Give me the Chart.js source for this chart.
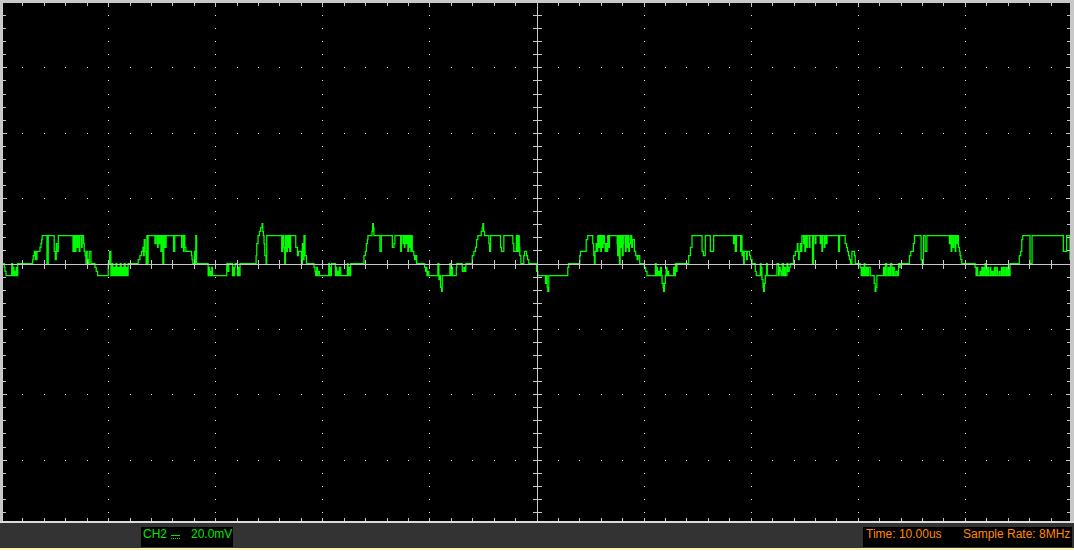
<!DOCTYPE html>
<html>
<head>
<meta charset="utf-8">
<script src="https://cdn.jsdelivr.net/npm/chart.js@4.4.0/dist/chart.umd.min.js"></script>
<style>
  html, body { margin: 0; padding: 0; background: #fff; }
  #wrap { position: relative; width: 1074px; height: 551px; overflow: hidden; background: #000; }
  #scope { position: absolute; left: 0; top: 0; }
  .bar { position: absolute; left: 0; width: 1074px; }
  .box { position: absolute; top: 527px; height: 20px; background: #000; }
  .txt { position: absolute; top: 0; line-height: 20px; font: 12px "Liberation Sans", Arial, sans-serif; white-space: nowrap; }
  .ch { color: #00e800; }
  .info { color: #ff8a00; }
  .dc { position: absolute; left: 30px; width: 9px; height: 1px; }
</style>
</head>
<body>
<div id="wrap">
  <canvas id="scope" width="1074" height="551"></canvas>
  <div class="bar" style="top:521px;height:2px;background:#dcdcdc"></div>
  <div class="bar" style="top:523px;height:25px;background:#333"></div>
  <div class="bar" style="top:548px;height:2px;background:#fff2bd"></div>
  <div class="bar" style="top:550px;height:1px;background:#fff"></div>
  <div class="box" style="left:141px;width:92px">
    <span class="txt ch" style="left:2px">CH2</span>
    <span class="dc" style="top:8px;background:#00e800"></span>
    <span class="dc" style="top:11px;background:repeating-linear-gradient(90deg,#00e800 0 1px,transparent 1px 2px)"></span>
    <span class="txt ch" style="left:50px">20.0mV</span>
  </div>
  <div class="box" style="left:863px;width:209px">
    <span class="txt info" style="left:3px">Time: 10.00us</span>
    <span class="txt info" style="left:100px">Sample Rate: 8MHz</span>
  </div>
</div>
<script>
// CH2 capture, 10 us/div, 20 mV/div
const timeUs = [
  0.00, 0.31, 0.37, 0.47, 1.00, 1.09, 1.15, 1.21, 1.31, 1.37, 1.43, 1.49, 1.56,
  2.96, 3.01, 3.11, 3.20, 3.24, 3.29, 3.36, 3.64, 3.73, 3.80, 3.85, 4.29, 4.41, 4.97, 5.07, 5.16, 5.22, 5.35,
  6.72, 6.84, 6.93, 7.00, 7.12, 7.18, 7.30, 7.37, 7.53, 7.58, 7.71, 7.77, 7.86, 7.93, 7.99, 8.05, 8.14, 8.24, 8.40,
  8.77, 8.89, 9.02, 10.01, 10.14, 10.26, 10.38, 10.45, 10.57, 10.63, 10.73, 10.82, 10.94, 11.04, 11.13, 11.22,
  11.32, 11.41, 11.50, 11.59, 11.69, 11.78, 11.87,
  12.81, 12.97, 13.12, 13.25, 13.31, 13.37, 13.46, 13.55, 13.62, 13.68, 13.74, 14.37, 14.49, 14.62, 14.67, 14.77,
  14.83, 14.93, 14.99, 15.11, 15.20, 15.30, 15.42, 16.11, 16.23, 16.86, 16.91, 17.04, 17.10, 17.16, 17.26, 17.79,
  17.84, 17.91, 18.07, 18.12, 18.19, 18.26,
  19.34, 19.40, 19.47, 19.56, 19.62, 19.68, 19.75, 21.08, 21.20, 21.27, 21.61, 21.67, 21.74, 21.80, 21.86, 22.08,
  22.14, 22.20, 22.32,
  23.82, 23.88, 24.00, 24.13, 24.25, 24.38, 24.44, 24.50, 24.56, 24.63, 24.75, 24.81, 26.21, 26.31, 26.40, 26.49,
  26.56, 26.68, 26.74, 26.80, 26.87, 26.96, 27.05, 27.52, 27.68, 27.77, 28.05, 28.14, 28.20, 28.29, 28.39, 28.52,
  29.23, 29.32, 29.38, 29.48, 29.54, 29.60, 29.73, 30.60, 30.66, 30.72, 30.78, 30.85, 31.22, 31.28, 31.34, 31.44,
  31.53, 31.59, 31.72, 32.34, 32.40, 32.46, 32.58, 32.65,
  33.89, 34.02, 34.11, 34.21, 34.26, 34.64, 34.70, 34.77, 34.82, 35.38, 35.51, 36.54, 36.69, 36.78, 37.31, 37.38,
  37.53, 37.59, 37.66, 37.71, 37.81, 37.87, 37.99, 38.06, 38.15, 38.22, 38.27, 38.34, 38.40, 38.55, 38.62, 38.71, 38.81,
  39.55, 39.64, 39.71, 39.77, 39.83, 39.95, 40.79, 40.89, 40.95, 41.04, 41.14, 41.20, 41.91, 42.00, 42.10, 42.16,
  42.51, 42.56, 43.07, 43.22, 43.31, 43.40,
  44.00, 44.15, 44.31, 44.40, 44.52, 44.84, 44.93, 44.99, 45.06, 45.15, 45.55, 45.62, 45.71, 46.64, 46.73, 46.95,
  47.79, 47.88, 48.13, 48.20, 48.32, 48.39, 48.44, 48.54, 48.81, 48.88, 49.07, 49.16, 49.28,
  50.00, 50.12, 50.84, 50.93, 51.00, 51.05, 51.15, 52.92, 53.01,
  54.04, 54.10, 54.64, 54.78, 55.25, 55.34, 55.41, 55.47, 55.57, 55.62, 55.72, 55.81, 55.88, 56.00, 56.06, 56.13,
  56.22, 56.34, 56.41, 56.50, 56.59, 56.65, 56.74, 56.81, 57.53, 57.58, 57.65, 57.74, 57.81, 57.86, 57.93, 58.02,
  58.09, 58.14, 58.30, 58.37, 58.49, 58.55, 58.61, 58.68, 58.77, 58.89, 58.96, 59.14, 59.26, 59.39, 59.49, 59.64,
  60.07, 60.20, 60.32, 61.10, 61.17, 61.22, 61.29, 61.41, 61.47, 61.57, 61.66, 61.73, 61.82, 61.87, 61.94, 62.03,
  62.10, 62.19, 62.29, 62.34, 62.81, 62.87, 62.97, 63.03, 63.12,
  64.21, 64.37, 64.52, 65.46, 65.58, 65.76, 66.23, 66.54, 68.40, 68.50, 68.56, 68.66, 69.06, 69.12, 69.19, 69.24,
  69.34, 69.40, 69.62, 69.68, 69.90, 69.99, 70.12,
  70.43, 70.52, 70.90, 70.96, 71.02, 71.05, 71.15, 71.20, 71.27, 71.36, 71.48, 71.55, 72.45, 72.60, 72.67, 72.76,
  72.85, 72.95, 73.07, 73.16, 73.25, 73.38, 73.48, 73.60, 73.69,
  74.00, 74.16, 74.35, 74.41, 74.47, 74.53, 74.63, 74.69, 74.78, 74.93, 75.00, 75.06, 75.12, 75.21, 75.28, 75.47,
  75.53, 75.77, 75.87, 76.03, 76.09, 76.49, 76.56, 76.65, 76.71, 76.87, 76.93, 77.02, 77.12, 78.20, 78.29, 78.82,
  78.95, 79.04, 79.13, 79.22, 79.32, 79.45, 79.69, 79.76,
  80.22, 80.32, 80.41, 80.50, 80.60, 80.66, 80.78, 80.88, 81.00, 81.16, 81.53, 81.62, 81.69, 81.78, 82.40, 82.49,
  82.58, 82.71, 82.84, 82.93, 83.05, 83.18, 83.30, 83.40, 83.55, 83.68, 83.80, 83.89, 83.96,
  84.82, 84.95, 85.19, 85.29, 85.91, 86.01, 86.13, 86.29, 86.45, 88.55, 88.62, 88.71, 88.78, 88.90, 88.96, 89.09,
  89.15, 89.27, 89.34, 89.39, 89.49, 89.55, 89.62, 89.71,
  90.95, 91.04, 91.14, 91.20, 91.42, 91.48, 91.58, 91.63, 91.73, 91.79, 91.88, 91.98, 92.10, 92.19, 92.35, 92.42,
  92.54, 92.63, 92.75, 92.85, 92.98, 93.03, 93.19, 93.28, 93.41, 93.47, 93.59, 93.68, 93.81, 93.91, 94.03, 94.12, 94.22,
  95.08, 95.21, 95.31, 95.40, 96.08, 96.27, 99.19, 99.50, 99.81, 99.91, 100.00
];
const ch2mV = [
  0, -1.2, -2.4, -3.7, 0, -3.7, -1.2, -3.7, -2.4, -3.7, -1.2, -3.7, 0,
  1.2, 2.4, 3.7, 1.2, 3.7, 1.2, 3.7, 4.9, 6.1, 7.3, 8.5, 0, 8.5, 3.7, 1.2, 6.1, 3.7, 8.5,
  3.7, 8.5, 3.7, 8.5, 4.9, 8.5, 3.7, 8.5, 4.9, 8.5, 6.1, 3.7, 2.4, 0, 3.7, 1.2, 0, 3.7, 0,
  -1.2, -2.4, -3.7, 0, 3.7, -3.7, 0, -3.7, -1.2, -3.7, 0, -3.7, -1.2, -3.7, 0, -3.7,
  -1.2, -3.7, 0, -3.7, -1.2, -3.7, 0,
  1.2, 2.4, 3.7, 4.9, 2.4, 7.3, 3.7, 0, 8.5, 0, 8.5, 6.1, 8.5, 4.9, 8.5, 6.1,
  8.5, 3.7, 8.5, 0, 8.5, 4.9, 8.5, 3.7, 8.5, 4.9, 8.5, 3.7, 8.5, 4.9, 3.7, 2.4,
  1.2, 0, 3.7, 0, 8.5, 0,
  -3.7, -1.2, -3.7, -2.4, -3.7, -1.2, -3.7, 0, -2.4, 0, -3.7, -1.2, -3.7, -1.2, 0, -3.7,
  -1.2, -3.7, 0,
  2.4, 6.1, 8.5, 9.8, 11.0, 12.2, 9.8, 8.5, 6.1, 2.4, 0, 8.5, 3.7, 8.5, 4.9, 0,
  8.5, 3.7, 8.5, 4.9, 8.5, 3.7, 8.5, 4.9, 2.4, 3.7, 0, 6.1, 1.2, 8.5, 2.4, 0,
  -1.2, -2.4, -3.7, -1.2, -3.7, -2.4, -3.7, 0, -3.7, -1.2, -3.7, 0, -3.7, -1.2, -3.7, -2.4,
  -3.7, -1.2, -3.7, 0, -3.7, -1.2, -3.7, 0,
  2.4, 3.7, 6.1, 7.3, 8.5, 9.8, 12.2, 11.0, 8.5, 3.7, 8.5, 4.9, 6.1, 8.5, 3.7, 8.5,
  6.1, 8.5, 4.9, 8.5, 6.1, 8.5, 3.7, 8.5, 4.9, 8.5, 3.7, 8.5, 3.7, 2.4, 1.2, 2.4, 0,
  -1.2, -2.4, -1.2, -3.7, -2.4, -3.7, 0, -4.9, -3.7, -7.3, -8.5, -3.7, 0, -3.7, -1.2, -3.7,
  -1.2, 0, -2.4, -1.2, -2.4, 0,
  2.4, 3.7, 4.9, 7.3, 8.5, 9.8, 11.0, 12.2, 9.8, 8.5, 6.1, 3.7, 8.5, 4.9, 3.7, 8.5,
  6.1, 3.7, 8.5, 3.7, 8.5, 4.9, 2.4, 0, 2.4, 3.7, 2.4, 1.2, 0,
  -2.4, -3.7, -6.1, -3.7, -7.3, -8.5, -3.7, -1.2, 0,
  2.4, 3.7, 7.3, 8.5, 6.1, 2.4, 0, 3.7, 6.1, 3.7, 8.5, 4.9, 8.5, 3.7, 8.5, 4.9,
  8.5, 6.1, 3.7, 6.1, 3.7, 8.5, 4.9, 8.5, 6.1, 2.4, 8.5, 0, 8.5, 4.9, 8.5, 2.4,
  6.1, 8.5, 3.7, 8.5, 4.9, 8.5, 3.7, 6.1, 8.5, 4.9, 7.3, 3.7, 2.4, 1.2, 2.4, 0,
  -1.2, -2.4, -3.7, 0, -3.7, -1.2, -3.7, -2.4, -3.7, -1.2, -3.7, -6.1, -7.3, -8.5, -6.1, -3.7,
  -1.2, -3.7, -2.4, -3.7, -1.2, -3.7, 0, -2.4, 0,
  2.4, 4.9, 8.5, 3.7, 2.4, 8.5, 3.7, 8.5, 6.1, 8.5, 3.7, 8.5, 3.7, 8.5, 2.4, 3.7,
  0, 3.7, 1.2, 3.7, 2.4, 1.2, 0,
  -2.4, -3.7, 0, -3.7, -1.2, -4.9, -7.3, -8.5, -6.1, -3.7, 0, -3.7, 0, -3.7, -1.2, -2.4,
  -3.7, 0, -3.7, -1.2, -3.7, 0, -2.4, -1.2, 0,
  2.4, 3.7, 6.1, 3.7, 1.2, 3.7, 6.1, 3.7, 8.5, 6.1, 8.5, 3.7, 8.5, 4.9, 8.5, 4.9,
  8.5, 0, 8.5, 6.1, 8.5, 6.1, 8.5, 3.7, 8.5, 4.9, 8.5, 6.1, 8.5, 3.7, 8.5, 6.1,
  4.9, 3.7, 2.4, 1.2, 0, 3.7, 2.4, 0,
  -1.2, -3.7, -1.2, -3.7, 0, -3.7, -1.2, -3.7, -1.2, -3.7, -6.1, -8.5, -7.3, -3.7, -1.2, -3.7,
  0, -3.7, -1.2, -3.7, 0, -3.7, -1.2, -3.7, -2.4, -3.7, 0, -1.2, 0,
  2.4, 3.7, 6.1, 8.5, 1.2, 0, 8.5, 3.7, 8.5, 6.1, 8.5, 3.7, 8.5, 4.9, 8.5, 3.7,
  8.5, 6.1, 8.5, 4.9, 3.7, 2.4, 1.2, 0,
  -1.2, -3.7, -1.2, -3.7, -2.4, -3.7, -1.2, -3.7, -1.2, -3.7, 0, -3.7, -1.2, -3.7, -1.2, -3.7,
  -2.4, -3.7, -1.2, -3.7, -1.2, -3.7, -2.4, -3.7, -1.2, -3.7, -1.2, -3.7, -1.2, -3.7, -1.2, -3.7, 0,
  2.4, 3.7, 7.3, 8.5, 0, 8.5, 3.7, 8.5, 1.2, 0, 0
];
const timeRange = [0, 100];     // 10 divisions x 10 us
const voltRange = [-80, 80];    // 8 divisions x 20 mV
const majorTime = [0, 10, 20, 30, 40, 50, 60, 70, 80, 90, 100];
const majorVolt = [-80, -60, -40, -20, 0, 20, 40, 60, 80];

const minorT = [];
for (let t = timeRange[0]; t <= timeRange[1]; t += 2) minorT.push(t);
const minorV = [];
for (let v = voltRange[0]; v <= voltRange[1]; v += 4) minorV.push(v);

const GRID = '#c8c8c8';

// graticule: dotted majors under the trace, centre cross and frame on top
const graticule = {
    id: 'graticule',
    beforeDatasetsDraw(chart) {
        const { ctx, scales: { x, y } } = chart;
        ctx.save();
        ctx.fillStyle = '#e8e8e8';
        majorTime.forEach(t => {
            if (t === 0 || t === 50 || t === 100) return;
            const px = Math.round(x.getPixelForValue(t));
            minorV.forEach(v => ctx.fillRect(px, Math.round(y.getPixelForValue(v)), 1, 1));
        });
        majorVolt.forEach(v => {
            if (v === 0 || Math.abs(v) === 80) return;
            const py = Math.round(y.getPixelForValue(v));
            minorT.forEach(t => ctx.fillRect(Math.round(x.getPixelForValue(t)), py, 1, 1));
        });
        ctx.restore();
    },
    afterDatasetsDraw(chart) {
        const { ctx, chartArea: a, scales: { x, y } } = chart;
        const cx = Math.round(x.getPixelForValue(50));
        const cy = Math.round(y.getPixelForValue(0));
        ctx.save();
        ctx.fillStyle = GRID;
        // centre cross
        ctx.fillRect(cx, 0, 1, a.bottom);
        ctx.fillRect(0, cy, a.right, 1);
        minorT.forEach(t => {
            const px = Math.round(x.getPixelForValue(t));
            ctx.fillRect(px, cy - 4, 1, 9);
            const big = majorTime.includes(t) ? 4 : 3;
            ctx.fillRect(px, 3, 1, big);          // top frame ticks
            ctx.fillRect(px, 518, 1, 3);          // bottom frame ticks
        });
        minorV.forEach(v => {
            const py = Math.round(y.getPixelForValue(v));
            ctx.fillRect(cx - 4, py, 9, 1);
            const big = majorVolt.includes(v) ? 4 : 3;
            ctx.fillRect(3, py, big, 1);          // left frame ticks
            ctx.fillRect(1070 - big, py, big, 1); // right frame ticks
        });
        // frame
        ctx.fillRect(0, 0, 1074, 3);
        ctx.fillRect(0, 0, 3, 521);
        ctx.fillRect(1070, 0, 4, 521);
        ctx.restore();
    }
};

new Chart(document.getElementById('scope'), {
    type: 'line',
    data: {
        datasets: [{
            label: 'CH2',
            data: timeUs.map((t, i) => ({ x: t, y: ch2mV[i] })),
            borderColor: '#00ff00',
            borderWidth: 1.25,
            pointRadius: 0,
            stepped: true,
            tension: 0
        }]
    },
    options: {
        responsive: false,
        animation: false,
        events: [],
        layout: { padding: { left: 1, right: 2, top: 2, bottom: 26 } },
        plugins: { legend: { display: false }, tooltip: { enabled: false } },
        scales: {
            x: { type: 'linear', min: timeRange[0], max: timeRange[1], display: false },
            y: { type: 'linear', min: voltRange[0], max: voltRange[1], display: false }
        }
    },
    plugins: [graticule]
});
</script>
</body>
</html>
